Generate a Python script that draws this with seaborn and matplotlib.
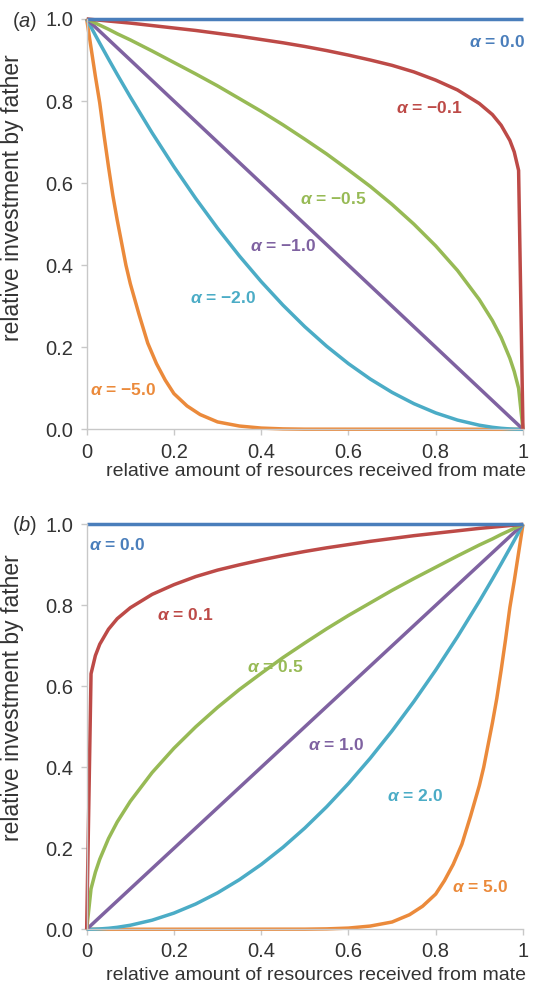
import matplotlib
matplotlib.use("Agg")
import matplotlib.pyplot as plt
import seaborn as sns

# ---------------- data ----------------
x_vals = [0, 0.01, 0.02, 0.03, 0.05, 0.07, 0.1, 0.15, 0.2, 0.25, 0.3, 0.35, 0.4, 0.45,
          0.5, 0.55, 0.6, 0.65, 0.7, 0.75, 0.8, 0.85, 0.9, 0.93, 0.95, 0.97, 0.98, 0.99, 1.0]

# panel (a): negative alpha
a_m01 = [1.0, .999, .998, .997, .995, .993, .990, .984, .978, .972, .965, .958, .950, .942,
         .933, .923, .912, .900, .887, .871, .851, .827, .794, .767, .741, .704, .676, .631, 0.0]
a_m05 = [1.0, .995, .990, .985, .975, .964, .949, .922, .894, .866, .837, .806, .775, .742,
         .707, .671, .632, .592, .548, .500, .447, .387, .316, .265, .224, .173, .141, .100, 0.0]
a_m10 = [1.0, .99, .98, .97, .95, .93, .90, .85, .80, .75, .70, .65, .60, .55,
         .50, .45, .40, .35, .30, .25, .20, .15, .10, .07, .05, .03, .02, .01, 0.0]
a_m20 = [1.0, .9801, .9604, .9409, .9025, .8649, .81, .7225, .64, .5625, .49, .4225, .36, .3025,
         .25, .2025, .16, .1225, .09, .0625, .04, .0225, .01, .0049, .0025, .0009, .0004, .0001, 0.0]
x_a_m50 = [0, 0.01, 0.02, 0.03, 0.04, 0.05, 0.06, 0.07, 0.08, 0.09, 0.1, 0.12, 0.14, 0.16,
           0.18, 0.2, 0.23, 0.26, 0.3, 0.35, 0.4, 0.45, 0.5, 1.0]
a_m50 = [1.0, 0.93, 0.86, 0.795, 0.715, 0.64, 0.57, 0.51, 0.455, 0.40, 0.355, 0.28, 0.21, 0.16,
         0.12, 0.087, 0.057, 0.036, 0.018, 0.008, 0.003, 0.001, 0.0003, 0.0]

# panel (b): positive alpha
b_p01 = [0.0, .631, .676, .704, .741, .767, .794, .827, .851, .871, .887, .900, .912, .923,
         .933, .942, .950, .958, .965, .972, .978, .984, .990, .993, .995, .997, .998, .999, 1.0]
b_p05 = [0.0, .100, .141, .173, .224, .265, .316, .387, .447, .500, .548, .592, .632, .671,
         .707, .742, .775, .806, .837, .866, .894, .922, .949, .964, .975, .985, .990, .995, 1.0]
b_p10 = [0.0, .01, .02, .03, .05, .07, .10, .15, .20, .25, .30, .35, .40, .45,
         .50, .55, .60, .65, .70, .75, .80, .85, .90, .93, .95, .97, .98, .99, 1.0]
b_p20 = [0.0, .0001, .0004, .0009, .0025, .0049, .01, .0225, .04, .0625, .09, .1225, .16, .2025,
         .25, .3025, .36, .4225, .49, .5625, .64, .7225, .81, .8649, .9025, .9409, .9604, .9801, 1.0]
x_b_p50 = [0, 0.5, 0.55, 0.6, 0.65, 0.7, 0.74, 0.77, 0.8, 0.82, 0.84, 0.86, 0.88, 0.9,
           0.91, 0.92, 0.93, 0.94, 0.95, 0.96, 0.97, 0.98, 0.99, 1.0]
b_p50 = [0.0, 0.0003, 0.001, 0.003, 0.008, 0.018, 0.036, 0.057, 0.087, 0.12, 0.16, 0.21, 0.28, 0.355,
         0.40, 0.455, 0.51, 0.57, 0.64, 0.715, 0.795, 0.86, 0.93, 1.0]

flat_x = [0.0, 1.0]
flat_y = [1.0, 1.0]

x_ticks = [0, 0.2, 0.4, 0.6, 0.8, 1.0]
x_tick_labels = ["0", "0.2", "0.4", "0.6", "0.8", "1"]
y_ticks = [0.0, 0.2, 0.4, 0.6, 0.8, 1.0]
y_tick_labels = ["0.0", "0.2", "0.4", "0.6", "0.8", "1.0"]

labels_a = ["\u22125.0", "\u22122.0", "\u22121.0", "\u22120.5", "\u22120.1", "0.0"]
labels_b = ["5.0", "2.0", "1.0", "0.5", "0.1", "0.0"]

x_label = "relative amount of resources received from mate"
y_label = "relative investment by father"

# ---------------- style ----------------
sns.set_style("white")
plt.rcParams["font.family"] = ["Liberation Sans", "DejaVu Sans"]
plt.rcParams["mathtext.fontset"] = "custom"
plt.rcParams["mathtext.it"] = "Liberation Sans:italic"
plt.rcParams["mathtext.bfit"] = "Liberation Sans:italic:bold"
plt.rcParams["mathtext.rm"] = "Liberation Sans"

colors = ["#EB8A3B", "#4BACC6", "#7F62A1", "#97BA55", "#BD4A47", "#4A7EBB"]
spine_col = "#C8C8C8"
text_col = "#333333"

fig = plt.figure(figsize=(5.35, 9.94), dpi=100)
ax_a = fig.add_axes([0.162, 0.5681, 0.8155, 0.4128])
ax_b = fig.add_axes([0.162, 0.0651, 0.8155, 0.4074])

series_a = [(x_a_m50, a_m50), (x_vals, a_m20), (x_vals, a_m10), (x_vals, a_m05), (x_vals, a_m01)]
series_b = [(x_b_p50, b_p50), (x_vals, b_p20), (x_vals, b_p10), (x_vals, b_p05), (x_vals, b_p01)]

# label positions (data coords)
pos_a = [(0.083, 0.096), (0.312, 0.320), (0.450, 0.447), (0.565, 0.561), (0.785, 0.783), (0.940, 0.944)]
pos_b = [(0.901, 0.104), (0.752, 0.329), (0.571, 0.455), (0.432, 0.648), (0.225, 0.776), (0.069, 0.949)]

for ax, series, labs, pos in [(ax_a, series_a, labels_a, pos_a), (ax_b, series_b, labels_b, pos_b)]:
    for (xs, ys), c in zip(series, colors[:5]):
        sns.lineplot(x=xs, y=ys, ax=ax, color=c, linewidth=2.5, estimator=None)
    sns.lineplot(x=flat_x, y=flat_y, ax=ax, color=colors[5], linewidth=2.5, estimator=None)
    for ln in ax.lines:
        ln.set_clip_on(False)
        ln.set_solid_capstyle("butt")
        ln.set_solid_joinstyle("round")
    for lab, (px, py), c in zip(labs, pos, colors):
        ax.text(px, py, r"$\mathbfit{\alpha}$ = " + lab, color=c, fontsize=12.5,
                fontweight="bold", ha="center", va="center")
    ax.set_xlim(0, 1)
    ax.set_ylim(0, 1)
    ax.set_xticks(x_ticks)
    ax.set_xticklabels(x_tick_labels)
    ax.set_yticks(y_ticks)
    ax.set_yticklabels(y_tick_labels)
    for s in ["top", "right"]:
        ax.spines[s].set_visible(False)
    for s in ["left", "bottom"]:
        ax.spines[s].set_color(spine_col)
        ax.spines[s].set_linewidth(1.0)
    ax.tick_params(axis="both", which="major", direction="out", length=4.5, width=1.0,
                   color=spine_col, labelcolor=text_col, labelsize=14.5, pad=5,
                   bottom=True, left=True)
    ax.set_xlabel(x_label, fontsize=14, color=text_col)
    ax.set_ylabel(y_label, fontsize=16.5, color=text_col)

ax_a.xaxis.set_label_coords(0.525, -0.083)
ax_b.xaxis.set_label_coords(0.525, -0.093)
ax_a.yaxis.set_label_coords(-0.143, 0.565)
ax_b.yaxis.set_label_coords(-0.143, 0.572)

fig.text(0.0224, 0.978, r"($\mathit{a}$)", fontsize=14.5, color=text_col, ha="left", va="center")
fig.text(0.0224, 0.4718, r"($\mathit{b}$)", fontsize=14.5, color=text_col, ha="left", va="center")

fig.savefig("out.png", dpi=100)
